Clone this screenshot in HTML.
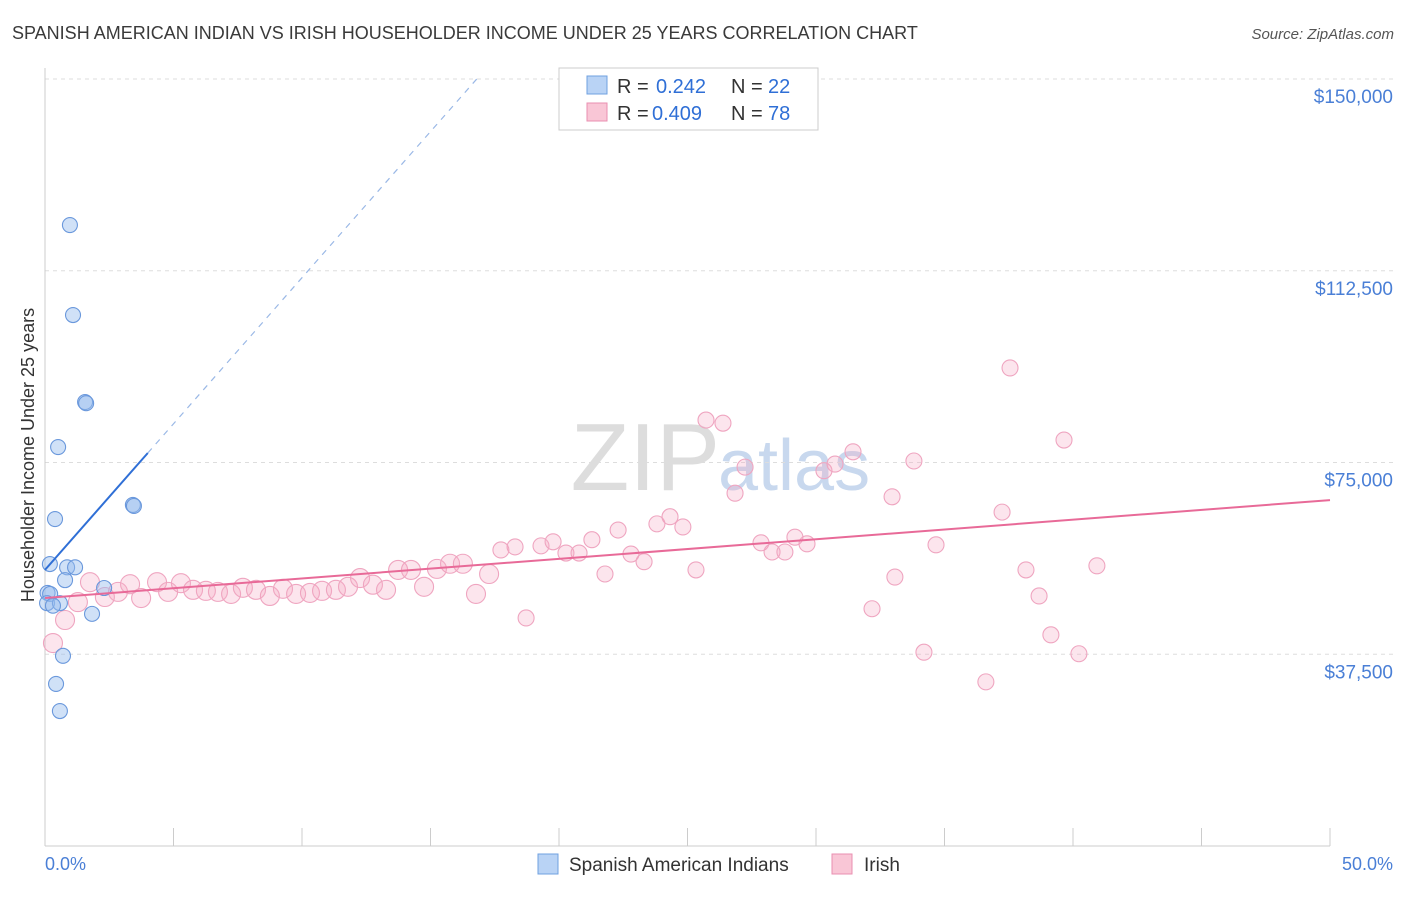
<!DOCTYPE html>
<html><head><meta charset="utf-8"><style>
body{margin:0;background:#fff;font-family:"Liberation Sans",sans-serif;}
svg text{font-family:"Liberation Sans",sans-serif;}
</style></head><body>
<svg width="1406" height="892" id="chart">
<text x="12" y="39" font-size="18" fill="#3a3a3a">SPANISH AMERICAN INDIAN VS IRISH HOUSEHOLDER INCOME UNDER 25 YEARS CORRELATION CHART</text>
<text x="1394" y="39" font-size="15" fill="#555" font-style="italic" text-anchor="end">Source: ZipAtlas.com</text>
<text x="720" y="490" font-size="96" fill="#ddd" text-anchor="end" font-family="Liberation Serif">ZIP</text>
<text x="718" y="490" font-size="72" fill="#c8d8ee">atlas</text>
<text transform="translate(34,455) rotate(-90)" font-size="18" fill="#333" text-anchor="middle">Householder Income Under 25 years</text>
<g id="grid"></g><g id="pts"></g><g id="lines"></g>
<rect x="559" y="68" width="259" height="62" fill="#fff" stroke="#ccc"/>
<rect x="587" y="76" width="20" height="18" fill="#b9d3f5" stroke="#6fa0e0"/>
<text x="617" y="93" font-size="20" fill="#333">R =</text>
<text x="656" y="93" font-size="20" fill="#2f6fd6">0.242</text>
<text x="731" y="93" font-size="20" fill="#333">N =</text>
<text x="768" y="93" font-size="20" fill="#2f6fd6">22</text>
<rect x="587" y="103" width="20" height="18" fill="#f9c6d6" stroke="#e98fb0"/>
<text x="617" y="120" font-size="20" fill="#333">R =</text>
<text x="652" y="120" font-size="20" fill="#2f6fd6">0.409</text>
<text x="731" y="120" font-size="20" fill="#333">N =</text>
<text x="768" y="120" font-size="20" fill="#2f6fd6">78</text>
<text x="45" y="870" font-size="18" fill="#4a7fd6">0.0%</text>
<text x="1393" y="870" font-size="18" fill="#4a7fd6" text-anchor="end">50.0%</text>
<rect x="538" y="854" width="20" height="20" fill="#b9d3f5" stroke="#6fa0e0"/>
<text x="569" y="871" font-size="19" fill="#333">Spanish American Indians</text>
<rect x="832" y="854" width="20" height="20" fill="#f9c6d6" stroke="#e98fb0"/>
<text x="864" y="871" font-size="19" fill="#333">Irish</text>
</svg>
<script>
const yTicks=[37500,75000,112500,150000];
const yTickLabels=["$37,500","$75,000","$112,500","$150,000"];
const blueX=[0.97,1.09,1.56,1.6,0.51,3.42,3.46,0.39,0.19,0.86,1.17,0.78,2.3,0.1,0.2,0.08,0.58,0.31,1.83,0.7,0.43,0.58];
const blueY=[121450,103850,86830,86600,78030,66700,66500,63950,55150,54500,54500,52000,50460,49500,49300,47500,47500,47000,45400,37200,31700,26400];
const pinkX=[0.31,0.78,1.28,1.75,2.33,2.84,3.31,3.74,4.36,4.79,5.29,5.76,6.26,6.73,7.24,7.70,8.21,8.75,9.26,9.77,10.31,10.78,11.32,11.79,12.26,12.76,13.27,13.74,14.24,14.75,15.25,15.76,16.26,16.77,17.28,17.74,18.29,18.72,19.30,19.77,20.27,20.78,21.28,21.79,22.30,22.80,23.31,23.81,24.32,24.82,25.33,25.72,26.38,26.85,27.24,27.86,28.29,28.79,29.18,29.65,30.31,30.74,31.44,32.18,32.96,33.07,33.81,34.20,34.67,36.61,37.24,37.55,38.17,38.68,39.14,39.65,40.23,40.93];
const pinkY=[39700,44200,47700,51600,48700,49700,51200,48500,51600,49700,51400,50100,49900,49700,49300,50500,50100,48900,50300,49300,49500,49900,50100,50700,52400,51100,50100,54000,54000,50700,54200,55200,55200,49300,53200,57900,58500,44600,58700,59500,57300,57300,59900,53200,61800,57100,55600,63000,64400,62400,54000,83300,82700,69000,74100,59300,57500,57500,60400,59100,73400,74700,77100,46400,68300,52600,75300,37900,58900,32100,65300,93500,54000,48900,41300,79400,37600,54800];
const blueTrend=[54000,5715];
const pinkTrend=[48500,383];
const NS="http://www.w3.org/2000/svg";
const xs=p=>45+p*25.7, ys=v=>846-v*0.005113;
function mk(tag,attrs,parent){const e=document.createElementNS(NS,tag);for(const k in attrs)e.setAttribute(k,attrs[k]);document.getElementById(parent).appendChild(e);return e;}
yTicks.forEach((t,i)=>{
 const l=mk('line',{x1:45,x2:1393,y1:ys(t),y2:ys(t),stroke:'#ddd','stroke-dasharray':'4,4'},'grid');
 
 
 const tx=mk('text',{x:1393,y:ys(t)+24,'font-size':19,fill:'#4a7fd6','text-anchor':'end'},'grid');
 tx.textContent=yTickLabels[i];
 
 
});
const ax=mk('line',{x1:45,x2:45,y1:68,y2:846,stroke:'#ccc'},'grid');


const bx=mk('line',{x1:45,x2:1330,y1:846,y2:846,stroke:'#ccc'},'grid');


for(let i=0;i<=10;i++){const t=mk('line',{x1:xs(i*5),x2:xs(i*5),y1:828,y2:846,stroke:'#ccc'},'grid');
 
 }
pinkX.forEach((x,i)=>{const r=i<35?9.5:8;
 const c=mk('circle',{cx:xs(x),cy:ys(pinkY[i]),r:r,fill:'rgba(245,170,195,0.3)',stroke:'#efa5c0','stroke-width':1.1},'pts');
 
 });
blueX.forEach((x,i)=>{
 const c=mk('circle',{cx:xs(x),cy:ys(blueY[i]),r:7.5,fill:'rgba(150,188,238,0.45)',stroke:'#6a98dc','stroke-width':1.1},'pts');
 
 });
const bl=mk('line',{x1:xs(0),y1:ys(blueTrend[0]),x2:xs(4),y2:ys(blueTrend[0]+4*blueTrend[1]),stroke:'#2f6fd6','stroke-width':2},'lines');


const xe=(150000-blueTrend[0])/blueTrend[1];
const bd=mk('line',{x1:xs(4),y1:ys(blueTrend[0]+4*blueTrend[1]),x2:xs(xe),y2:ys(150000),stroke:'#9ab8e6','stroke-width':1.2,'stroke-dasharray':'6,6'},'lines');


const pl=mk('line',{x1:xs(0),y1:ys(pinkTrend[0]),x2:xs(50),y2:ys(pinkTrend[0]+50*pinkTrend[1]),stroke:'#e86a98','stroke-width':2},'lines');


</script>
</body></html>
